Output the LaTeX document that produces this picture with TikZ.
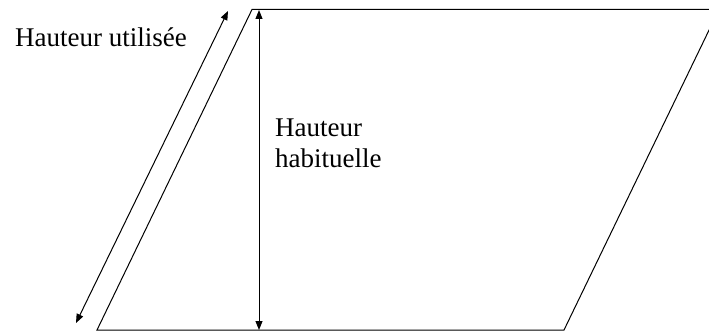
\documentclass[tikz,border=0pt]{standalone}
\usepackage{fontspec}
\setmainfont{Liberation Serif}
\usetikzlibrary{arrows.meta}
\begin{document}
\begin{tikzpicture}[x=1pt,y=-1pt,
  edge/.style={line width=1pt,black},
  dimarrow/.style={line width=1pt,black,{Triangle[length=9pt,width=7pt]}-{Triangle[length=9pt,width=7pt]}},
  lbl/.style={inner sep=0pt,font=\fontsize{27}{31}\selectfont,align=left}]
\useasboundingbox (0,0) rectangle (709,334);
\clip (0,0) rectangle (709,334);
\coordinate (tl) at (252,9.5);
\coordinate (tr) at (719,9.5);
\coordinate (br) at (564,330);
\coordinate (bl) at (97,330);
\draw[edge] (tl) -- (tr) -- (br) -- (bl) -- cycle;
\coordinate (vt) at (259,10);
\coordinate (vb) at (259,330);
\draw[dimarrow] (vt) -- (vb);
\coordinate (st) at (228,11);
\coordinate (sb) at (76,323);
\draw[dimarrow] (st) -- (sb);
\node[lbl,anchor=base west] (used) at (15,47) {Hauteur utilisée};
\node[lbl,anchor=north west] (usual) at (275,119) {Hauteur\\habituelle};
\end{tikzpicture}
\end{document}
